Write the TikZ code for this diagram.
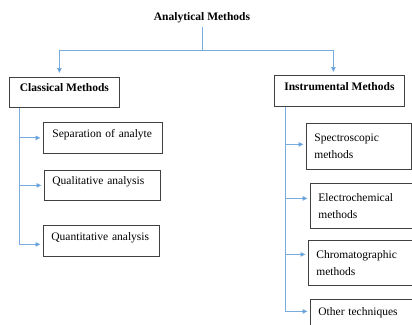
\documentclass[tikz,border=0pt]{standalone}
\usepackage{fontspec}
\setmainfont{Liberation Serif}
\usetikzlibrary{arrows.meta,positioning}
\definecolor{linkblue}{RGB}{120,172,222}
\definecolor{tipblue}{RGB}{80,145,210}
\tikzset{x=1pt, y=-1pt, % one unit is one pixel of the sketch
every node/.style={font=\fontsize{11.5}{17}\selectfont},
box/.style={draw=black!75, line width=0.8pt, anchor=north west, align=left, inner xsep=8pt}, % the framed entries
oneline/.style={box, text height=8pt, text depth=9pt}, % single line, text sits high
head/.style={oneline, align=center, font=\fontsize{11.5}{17}\selectfont\bfseries}, % the two main groups
link/.style={draw=linkblue, line width=0.9pt}, % plain connector
arrow/.style={link, -{Triangle[length=5pt,width=4.5pt,fill=tipblue]}, shorten >=2.5pt}, % connector with a tip
}

\begin{document}
\begin{tikzpicture}
\useasboundingbox (0,0) rectangle (412,324);
\clip (0,0) rectangle (412,324);
% top
\node[font=\fontsize{11.5}{17}\selectfont\bfseries] (am) at (202,18) {Analytical Methods};
\coordinate (split) at (202,50);
\node[head, minimum width=110pt, minimum height=30pt] (cm) at (9,77) {Classical Methods};
\node[head, minimum width=130pt, minimum height=31pt] (im) at (274,75) {Instrumental Methods};
% classical branch
\node[oneline, text width=101pt, minimum height=31pt, inner xsep=9pt] (sep) at (43,122) {Separation of analyte};
\node[oneline, text width=100pt, minimum height=30pt] (qual) at (44,170) {Qualitative analysis};
\node[oneline, text width=100pt, minimum height=31pt] (quant) at (43,225) {Quantitative analysis};
% instrumental branch
\node[box, text width=89pt, minimum height=46pt] (spec) at (306,123) {Spectroscopic\\methods};
\node[box, text width=100pt, minimum height=45pt] (elec) at (310,183) {Electrochemical\\methods};
\node[box, text width=100pt, minimum height=45pt] (chrom) at (308,240) {Chromatographic\\methods};
\node[oneline, text width=100pt, minimum height=34pt] (other) at (310,299) {Other techniques};
\coordinate (lspine) at ([xshift=10pt]cm.south west);
\coordinate (rspine) at ([xshift=11pt]im.south west);
\draw[link] (am) -- (split);
\draw[arrow, shorten >=4pt] (split) -| ([xshift=-5pt]cm.north);
\draw[arrow, shorten >=3pt] (split) -| ([xshift=-6pt]im.north);
\draw[arrow] (lspine) |- (sep.west);
\draw[arrow] (lspine) |- (qual.west);
\draw[arrow] (lspine) |- ([yshift=-3.5pt]quant.west);
\draw[arrow] (rspine) |- ([yshift=2pt]spec.west);
\draw[arrow] (rspine) |- ([yshift=7.5pt]elec.west);
\draw[arrow] (rspine) |- ([yshift=8.5pt]chrom.west);
\draw[arrow] (rspine) |- ([yshift=5pt]other.west);
\end{tikzpicture}
\end{document}
